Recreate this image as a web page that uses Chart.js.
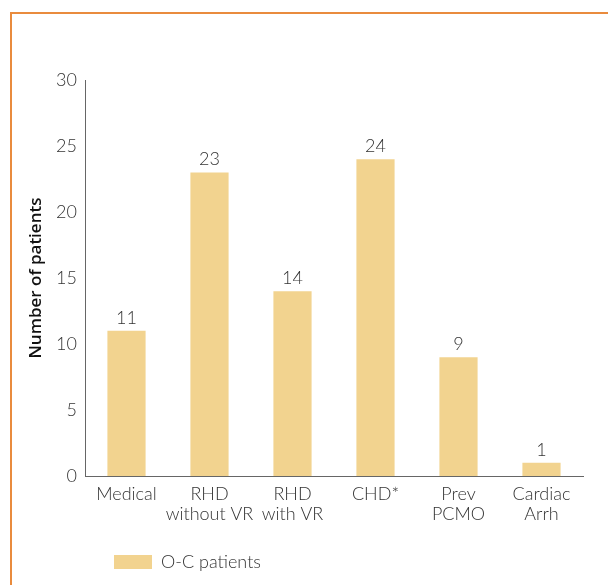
<!DOCTYPE html>
<html>
<head>
<meta charset="utf-8">
<script src="https://cdn.jsdelivr.net/npm/chart.js@4.4.1/dist/chart.umd.min.js"></script>
<style>
  html, body { margin: 0; padding: 0; background: #fff; }
  body { width: 608px; height: 585px; position: relative; overflow: hidden; }
  #frame { position: absolute; left: 10px; top: 12px; width: 700px; height: 700px;
           border-top: 2px solid #E98B3D; border-left: 2px solid #E98B3D; }
  #wrap { position: absolute; left: 0; top: 0; width: 608px; height: 585px; }
</style>
</head>
<body>
<div id="frame"></div>
<div id="wrap"><canvas id="c" width="608" height="585"></canvas></div>
<script>
// Patient groups and counts
const categories = ['Medical', ['RHD', 'without VR'], ['RHD', 'with VR'], 'CHD*', ['Prev', 'PCMO'], ['Cardiac', 'Arrh']];
const patientCounts = [11, 23, 14, 24, 9, 1];
const seriesName = 'O-C patients';
const yTicks = [0, 5, 10, 15, 20, 25, 30];

const FONT = 'Lato, "Open Sans", sans-serif';
const TEXT = '#333333';
const BAR = '#F2D38F';

// Value labels above each bar, positioned from the bar elements
const valueLabels = {
  id: 'valueLabels',
  afterDatasetsDraw(chart) {
    const ctx = chart.ctx;
    const meta = chart.getDatasetMeta(0);
    ctx.save();
    ctx.font = '300 18px ' + FONT;
    ctx.fillStyle = TEXT;
    ctx.textAlign = 'center';
    ctx.textBaseline = 'alphabetic';
    meta.data.forEach((bar, i) => {
      ctx.fillText(String(chart.data.datasets[0].data[i]), bar.x, bar.y - 7);
    });
    ctx.restore();
  }
};

// Place the legend under the first bar
const legendPlacement = {
  id: 'legendPlacement',
  afterLayout(chart) {
    const lg = chart.legend;
    if (!lg) return;
    const h = lg.height;
    lg.left = 104;
    lg.top = 543;
    lg.bottom = 543 + h;
  }
};

new Chart(document.getElementById('c'), {
  type: 'bar',
  data: {
    labels: categories,
    datasets: [{
      label: seriesName,
      data: patientCounts,
      backgroundColor: BAR,
      borderWidth: 0,
      barPercentage: 0.46,
      categoryPercentage: 1.0
    }]
  },
  options: {
    responsive: false,
    animation: false,
    layout: { padding: { top: 80, right: 25, bottom: 0, left: 0 } },
    plugins: {
      tooltip: { enabled: false },
      legend: {
        display: true,
        position: 'bottom',
        align: 'start',
        labels: {
          boxWidth: 38,
          boxHeight: 14,
          padding: 10,
          color: TEXT,
          font: { family: FONT, size: 18, weight: '300' }
        }
      }
    },
    scales: {
      x: {
        grid: { display: false, drawTicks: false },
        border: { display: true, color: '#666', width: 1 },
        ticks: {
          color: TEXT,
          font: { family: FONT, size: 18, weight: '300', lineHeight: 1.1 },
          padding: 8,
          maxRotation: 0,
          autoSkip: false
        },
        afterFit(scale) { scale.height = 71; }
      },
      y: {
        min: 0,
        max: 30,
        afterBuildTicks(scale) { scale.ticks = yTicks.map(v => ({ value: v })); },
        grid: { display: false, drawTicks: false },
        border: { display: true, color: '#666', width: 1 },
        ticks: {
          color: TEXT,
          font: { family: FONT, size: 18, weight: '300' },
          padding: 8
        },
        title: {
          display: true,
          text: 'Number of patients',
          color: '#111',
          font: { family: '"Open Sans", sans-serif', size: 17, weight: '600' },
          padding: { top: 26, bottom: 0 }
        },
        afterFit(scale) { scale.width = 85; }
      }
    }
  },
  plugins: [valueLabels, legendPlacement]
});
</script>
</body>
</html>
